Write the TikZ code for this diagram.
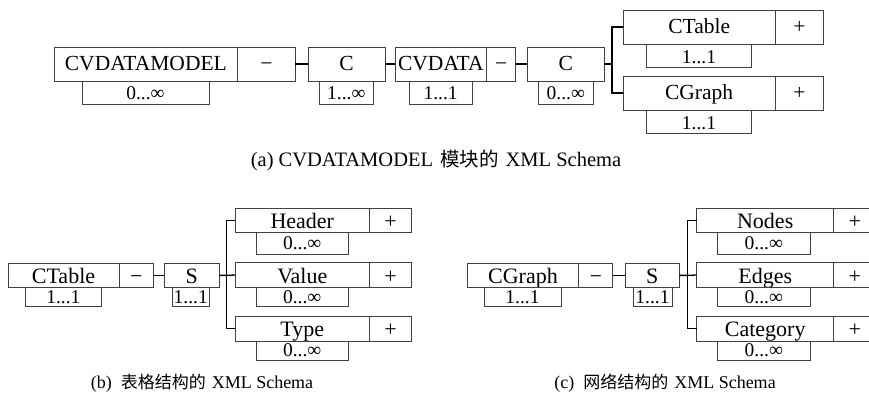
\documentclass[tikz,border=0pt]{standalone}
\usepackage{fontspec}
\setmainfont{Liberation Serif}
\newfontfamily\cjk{Noto Sans CJK SC}
\newcommand\cjktext[1]{{\cjk\fontsize{19.5}{20}\selectfont #1}}
\newcommand\cjksmall[1]{{\cjk\fontsize{17}{18}\selectfont #1}}
% #1 box style, #2 text style, #3 baseline offset, #4 name, #5 x1, #6 y1, #7 x2, #8 y2, #9 text
\newcommand\xbox[9]{%
  \pgfmathsetmacro\bw{#7-#5}\pgfmathsetmacro\bh{#8-#6}%
  \pgfmathsetmacro\bcx{(#5+#7)/2}\pgfmathsetmacro\bcy{(#6+#8)/2}%
  \node[#1, minimum width=\bw pt, minimum height=\bh pt] (#4) at (\bcx,\bcy) {};%
  \node[#2, anchor=base, yshift=-#3pt] (#4-t) at (#4.center) {#9};%
}
\begin{document}
\begin{tikzpicture}[x=1pt,y=-1pt,
  frame/.style={draw=black!75, line width=0.8pt, inner sep=0pt, outer sep=0pt, fill=white},
  lbltop/.style={inner sep=0pt, font=\fontsize{21.5}{21.5}\selectfont},
  lblbot/.style={inner sep=0pt, font=\fontsize{22}{22}\selectfont},
  mtxt/.style={inner sep=0pt, font=\fontsize{19.5}{20}\selectfont},
  conntop/.style={line width=2pt, line join=miter},
  connbot/.style={line width=1.3pt, line join=miter},
  captxt/.style={inner sep=0pt, font=\fontsize{20.5}{21}\selectfont},
  captxtb/.style={inner sep=0pt, font=\fontsize{18}{19}\selectfont}]
\useasboundingbox (0,0) rectangle (869,405);

% ---------- (a) ----------
\xbox{frame}{lbltop}{6.4}{cvm}{54}{47}{237.7}{81}{CVDATAMODEL}
\xbox{frame}{lbltop}{6.4}{cvmm}{237.7}{47}{295.3}{81}{−}
\xbox{frame}{mtxt}{7.3}{cvmn}{82}{81}{209}{104.3}{0...∞}
\xbox{frame}{lbltop}{6.4}{ca}{308.3}{47}{385}{81}{C}
\xbox{frame}{mtxt}{7.3}{can}{319.3}{81}{373.3}{104.3}{1...∞}
\xbox{frame}{lbltop}{6.4}{cvd}{395}{47}{486.7}{81}{CVDATA}
\xbox{frame}{lbltop}{6.4}{cvdm}{486.7}{47}{515.7}{81}{−}
\xbox{frame}{mtxt}{7.3}{cvdn}{409}{81}{472.3}{104.3}{1...1}
\xbox{frame}{lbltop}{6.4}{cb}{527.3}{47}{604.3}{81}{C}
\xbox{frame}{mtxt}{7.3}{cbn}{538.7}{81}{593}{104.3}{0...∞}
\xbox{frame}{lbltop}{6.4}{ct}{623}{10.3}{775.3}{44.3}{CTable}
\xbox{frame}{lbltop}{6.4}{ctp}{775.3}{10.3}{823.7}{44.3}{+}
\xbox{frame}{mtxt}{7.3}{ctn}{646.3}{44.3}{751.7}{67.7}{1...1}
\xbox{frame}{lbltop}{6.4}{cg}{623}{76.3}{775.3}{110.3}{CGraph}
\xbox{frame}{lbltop}{6.4}{cgp}{775.3}{76.3}{823.7}{110.3}{+}
\xbox{frame}{mtxt}{7.3}{cgn}{646.3}{110.3}{751.7}{133.7}{1...1}

\coordinate (ja) at (612.3,64);
\draw[conntop] (cvmm.east) -- (ca.west);
\draw[conntop] (ca.east) -- (cvd.west);
\draw[conntop] (cvdm.east) -- (cb.west);
\draw[conntop] (cb.east) -- (ja);
\draw[conntop] (ct.west) -| (ja) |- (cg.west);

\node[captxt, anchor=base] (capa) at (436,166) {(a) CVDATAMODEL\hspace{7pt}\cjktext{模块的}\hspace{7pt}XML Schema};

% ---------- (b) ----------
\xbox{frame}{lblbot}{8}{tb}{8}{263}{119}{287.7}{CTable}
\xbox{frame}{lblbot}{8}{tbm}{119}{263}{153.7}{287.7}{−}
\xbox{frame}{mtxt}{6}{tbn}{25}{287.7}{101.7}{306.7}{1...1}
\xbox{frame}{lblbot}{8}{sb}{164.3}{263}{219}{287.7}{S}
\xbox{frame}{mtxt}{6}{sbn}{172.3}{287.7}{209.3}{306.7}{1...1}
\xbox{frame}{lblbot}{8}{hd}{235.3}{208}{369.3}{232.7}{Header}
\xbox{frame}{lblbot}{8}{hdp}{369.3}{208}{411.7}{232.7}{+}
\xbox{frame}{mtxt}{6}{hdn}{256}{232.7}{348.3}{254}{0...∞}
\xbox{frame}{lblbot}{8}{vl}{235.3}{262.3}{369.3}{287.7}{Value}
\xbox{frame}{lblbot}{8}{vlp}{369.3}{262.3}{411.7}{287.7}{+}
\xbox{frame}{mtxt}{6}{vln}{256}{287.7}{348.3}{306.7}{0...∞}
\xbox{frame}{lblbot}{8}{ty}{235.3}{316.3}{369.3}{341.3}{Type}
\xbox{frame}{lblbot}{8}{typ}{369.3}{316.3}{411.7}{341.3}{+}
\xbox{frame}{mtxt}{6}{tyn}{256}{341.3}{348.3}{360}{0...∞}

\coordinate (jb) at (226.7,275.35);
\draw[connbot] (tbm.east) -- (sb.west);
\draw[connbot] (sb.east) -- (jb);
\draw[connbot] (hd.west) -| (jb) |- (ty.west);
\draw[connbot] (jb) -- (vl.west);

\node[captxtb, anchor=base] (capb) at (202,388) {(b)\hspace{9pt}\cjksmall{表格结构的}\hspace{6pt}XML Schema};

% ---------- (c) ----------
\xbox{frame}{lblbot}{8}{gr}{467.3}{263}{578.7}{287.7}{CGraph}
\xbox{frame}{lblbot}{8}{grm}{578.7}{263}{612.7}{287.7}{−}
\xbox{frame}{mtxt}{6}{grn}{484}{287.7}{561}{306.7}{1...1}
\xbox{frame}{lblbot}{8}{sc}{625}{263}{679.3}{287.7}{S}
\xbox{frame}{mtxt}{6}{scn}{633}{287.7}{672}{306.7}{1...1}
\xbox{frame}{lblbot}{8}{nd}{696.7}{208}{833.7}{232.7}{Nodes}
\xbox{frame}{lblbot}{8}{ndp}{833.7}{208}{876.1}{232.7}{+}
\xbox{frame}{mtxt}{6}{ndn}{717.3}{232.7}{810.3}{254}{0...∞}
\xbox{frame}{lblbot}{8}{ed}{696.7}{262.3}{833.7}{287.7}{Edges}
\xbox{frame}{lblbot}{8}{edp}{833.7}{262.3}{876.1}{287.7}{+}
\xbox{frame}{mtxt}{6}{edn}{717.3}{287.7}{810.3}{306.7}{0...∞}
\xbox{frame}{lblbot}{8}{cat}{696.7}{316.3}{833.7}{341.3}{Category}
\xbox{frame}{lblbot}{8}{catp}{833.7}{316.3}{876.1}{341.3}{+}
\xbox{frame}{mtxt}{6}{catn}{717.3}{341.3}{810.3}{360}{0...∞}

\coordinate (jc) at (687.7,275.35);
\draw[connbot] (grm.east) -- (sc.west);
\draw[connbot] (sc.east) -- (jc);
\draw[connbot] (nd.west) -| (jc) |- (cat.west);
\draw[connbot] (jc) -- (ed.west);

\node[captxtb, anchor=base] (capc) at (665,388) {(c)\hspace{9pt}\cjksmall{网络结构的}\hspace{6pt}XML Schema};
\end{tikzpicture}
\end{document}
